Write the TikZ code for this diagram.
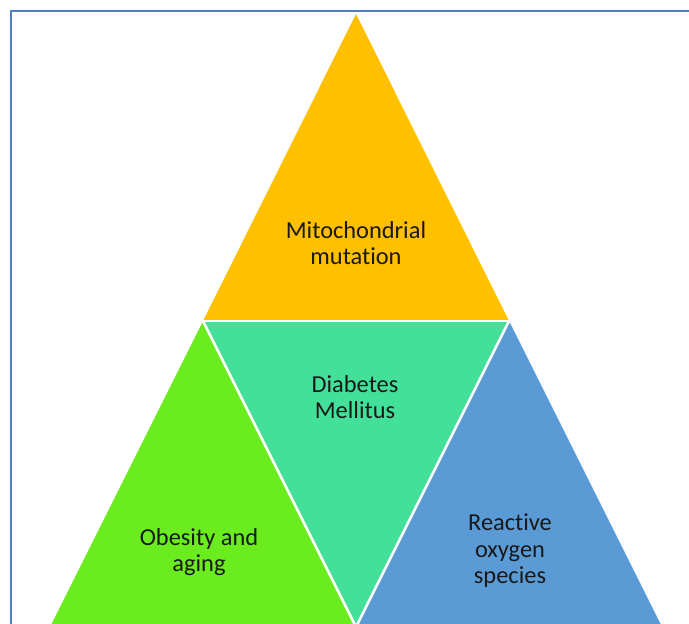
\documentclass[tikz,border=0pt]{standalone}
\usepackage{fontspec}
\setmainfont[RawFeature=-liga]{Carlito}
\definecolor{framecol}{HTML}{4F7FC0}
\definecolor{goldfill}{HTML}{FFC000}
\definecolor{tealfill}{HTML}{43E09A}
\definecolor{limefill}{HTML}{6AEC1E}
\definecolor{bluefill}{HTML}{5B9BD5}
\begin{document}
\begin{tikzpicture}[x=1pt,y=-1pt,
  tri/.style={draw=white,line width=2.6pt,line join=miter},
  lbl/.style={align=center,font=\fontsize{24.4}{26.5}\selectfont,text=black!90,inner sep=0pt}]
\useasboundingbox (0,0) rectangle (689,624);
\clip (0,0) rectangle (689,624);
% frame
\draw[framecol,line width=2.2pt] (11,640) -- (11,11) -- (700,11);
% corner points of the four triangles
\coordinate (apex) at (356,14);
\coordinate (ml) at (203,321);
\coordinate (mr) at (509,321);
\coordinate (bl) at (50,627);
\coordinate (bm) at (356,627);
\coordinate (br) at (662,627);
\fill[goldfill] (apex) -- (ml) -- (mr) -- cycle;
\fill[tealfill] (ml) -- (mr) -- (bm) -- cycle;
\fill[limefill] (ml) -- (bl) -- (bm) -- cycle;
\fill[bluefill] (mr) -- (bm) -- (br) -- cycle;
\draw[tri] (ml) -- (mr);
\draw[tri] (ml) -- (bm) -- (mr);
% labels
\node[lbl] (mito) at (356,243) {Mitochondrial\\mutation};
\node[lbl] (dm) at (355,397) {Diabetes\\Mellitus};
\node[lbl] (ob) at (199,552) {Obesity and\\aging};
\node[lbl] (ros) at (510,551) {Reactive\\oxygen\\species};
\end{tikzpicture}
\end{document}
